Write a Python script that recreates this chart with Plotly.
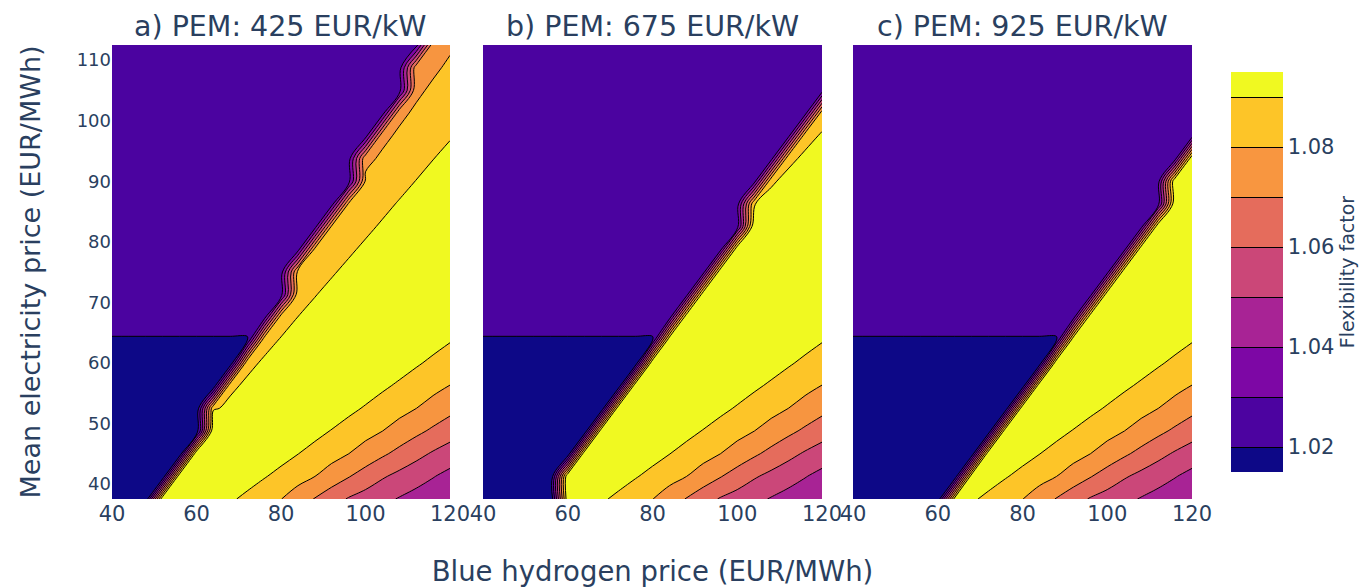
import plotly.graph_objects as go

# Blue hydrogen price (EUR/MWh) grid and mean electricity price (EUR/MWh) grid
x_h2 = [40, 44, 48, 52, 56, 60, 64, 68, 72, 76, 80, 84, 88, 92, 96, 100, 104, 108, 112, 116, 120]
y_el = [37.5, 41.25, 45, 48.75, 52.5, 56.25, 60, 63.75, 67.5, 71.25, 75, 78.75, 82.5, 86.25,
        90, 93.75, 97.5, 101.25, 105, 108.75, 112.5]

# Flexibility factor, rows = y_el (bottom to top), columns = x_h2
z_a = [
    [1.01, 1.01, 1.01, 1.10, 1.10, 1.099, 1.095, 1.0914, 1.0877, 1.0839, 1.0802, 1.0749, 1.0695, 1.0641, 1.0592, 1.0559, 1.0525, 1.0493, 1.0465, 1.0438, 1.041],
    [1.01, 1.01, 1.01, 1.01, 1.10, 1.10, 1.10, 1.0978, 1.0942, 1.0907, 1.0872, 1.0836, 1.0801, 1.0754, 1.0706, 1.0658, 1.0611, 1.0574, 1.0539, 1.0505, 1.0471],
    [1.01, 1.01, 1.01, 1.01, 1.01, 1.10, 1.10, 1.10, 1.10, 1.0969, 1.0935, 1.0902, 1.0868, 1.0835, 1.0801, 1.0759, 1.0716, 1.0673, 1.063, 1.0589, 1.0554],
    [1.01, 1.01, 1.01, 1.01, 1.01, 1.01, 1.10, 1.10, 1.10, 1.10, 1.0992, 1.096, 1.0928, 1.0896, 1.0864, 1.0832, 1.0801, 1.0762, 1.0723, 1.0684, 1.0645],
    [1.01, 1.01, 1.01, 1.01, 1.01, 1.01, 1.0889, 1.0919, 1.0949, 1.0979, 1.10, 1.10, 1.0983, 1.0953, 1.0922, 1.0892, 1.0861, 1.0831, 1.0801, 1.0765, 1.0729],
    [1.01, 1.01, 1.01, 1.01, 1.01, 1.01, 1.01, 1.0884, 1.0914, 1.0944, 1.0974, 1.10, 1.10, 1.10, 1.0974, 1.0945, 1.0916, 1.0887, 1.0858, 1.0828, 1.0799],
    [1.01, 1.01, 1.01, 1.01, 1.01, 1.01, 1.01, 1.01, 1.088, 1.091, 1.094, 1.097, 1.10, 1.10, 1.10, 1.0997, 1.0969, 1.094, 1.0911, 1.0883, 1.0854],
    [1.019, 1.019, 1.019, 1.019, 1.019, 1.019, 1.019, 1.019, 1.019, 1.0875, 1.0905, 1.0935, 1.0965, 1.0995, 1.10, 1.10, 1.10, 1.0985, 1.0958, 1.0932, 1.0906],
    [1.025, 1.025, 1.025, 1.025, 1.025, 1.025, 1.025, 1.025, 1.025, 1.025, 1.087, 1.0901, 1.093, 1.096, 1.099, 1.10, 1.10, 1.10, 1.099, 1.0975, 1.096],
    [1.025, 1.025, 1.025, 1.025, 1.025, 1.025, 1.025, 1.025, 1.025, 1.025, 1.025, 1.0866, 1.0896, 1.0926, 1.0956, 1.0986, 1.10, 1.10, 1.10, 1.10, 1.10],
    [1.025, 1.025, 1.025, 1.025, 1.025, 1.025, 1.025, 1.025, 1.025, 1.025, 1.025, 1.0831, 1.0861, 1.0891, 1.0921, 1.0951, 1.0981, 1.10, 1.10, 1.10, 1.10],
    [1.025, 1.025, 1.025, 1.025, 1.025, 1.025, 1.025, 1.025, 1.025, 1.025, 1.025, 1.025, 1.0826, 1.0856, 1.0886, 1.0916, 1.0946, 1.0976, 1.10, 1.10, 1.10],
    [1.025, 1.025, 1.025, 1.025, 1.025, 1.025, 1.025, 1.025, 1.025, 1.025, 1.025, 1.025, 1.025, 1.0821, 1.0851, 1.0881, 1.0911, 1.0941, 1.0971, 1.10, 1.10],
    [1.025, 1.025, 1.025, 1.025, 1.025, 1.025, 1.025, 1.025, 1.025, 1.025, 1.025, 1.025, 1.025, 1.025, 1.0817, 1.0847, 1.0877, 1.0907, 1.0937, 1.0967, 1.0997],
    [1.025, 1.025, 1.025, 1.025, 1.025, 1.025, 1.025, 1.025, 1.025, 1.025, 1.025, 1.025, 1.025, 1.025, 1.025, 1.0812, 1.0842, 1.0872, 1.0902, 1.0932, 1.0962],
    [1.025, 1.025, 1.025, 1.025, 1.025, 1.025, 1.025, 1.025, 1.025, 1.025, 1.025, 1.025, 1.025, 1.025, 1.025, 1.0783, 1.0811, 1.084, 1.0869, 1.0898, 1.0926],
    [1.025, 1.025, 1.025, 1.025, 1.025, 1.025, 1.025, 1.025, 1.025, 1.025, 1.025, 1.025, 1.025, 1.025, 1.025, 1.025, 1.0784, 1.0811, 1.0839, 1.0866, 1.0893],
    [1.025, 1.025, 1.025, 1.025, 1.025, 1.025, 1.025, 1.025, 1.025, 1.025, 1.025, 1.025, 1.025, 1.025, 1.025, 1.025, 1.025, 1.0785, 1.0811, 1.0837, 1.0863],
    [1.025, 1.025, 1.025, 1.025, 1.025, 1.025, 1.025, 1.025, 1.025, 1.025, 1.025, 1.025, 1.025, 1.025, 1.025, 1.025, 1.025, 1.025, 1.0787, 1.0812, 1.0837],
    [1.025, 1.025, 1.025, 1.025, 1.025, 1.025, 1.025, 1.025, 1.025, 1.025, 1.025, 1.025, 1.025, 1.025, 1.025, 1.025, 1.025, 1.025, 1.0764, 1.0788, 1.0812],
    [1.025, 1.025, 1.025, 1.025, 1.025, 1.025, 1.025, 1.025, 1.025, 1.025, 1.025, 1.025, 1.025, 1.025, 1.025, 1.025, 1.025, 1.025, 1.025, 1.0767, 1.079],
]

z_b = [
    [1.01, 1.01, 1.01, 1.01, 1.01, 1.099, 1.095, 1.0914, 1.0877, 1.0839, 1.0802, 1.0749, 1.0695, 1.0641, 1.0592, 1.0559, 1.0525, 1.0493, 1.0465, 1.0438, 1.041],
    [1.01, 1.01, 1.01, 1.01, 1.01, 1.10, 1.10, 1.0978, 1.0942, 1.0907, 1.0872, 1.0836, 1.0801, 1.0754, 1.0706, 1.0658, 1.0611, 1.0574, 1.0539, 1.0505, 1.0471],
    [1.01, 1.01, 1.01, 1.01, 1.01, 1.01, 1.10, 1.10, 1.10, 1.0969, 1.0935, 1.0902, 1.0868, 1.0835, 1.0801, 1.0759, 1.0716, 1.0673, 1.063, 1.0589, 1.0554],
    [1.01, 1.01, 1.01, 1.01, 1.01, 1.01, 1.01, 1.10, 1.10, 1.10, 1.0992, 1.096, 1.0928, 1.0896, 1.0864, 1.0832, 1.0801, 1.0762, 1.0723, 1.0684, 1.0645],
    [1.01, 1.01, 1.01, 1.01, 1.01, 1.01, 1.01, 1.01, 1.10, 1.10, 1.10, 1.10, 1.0983, 1.0953, 1.0922, 1.0892, 1.0861, 1.0831, 1.0801, 1.0765, 1.0729],
    [1.01, 1.01, 1.01, 1.01, 1.01, 1.01, 1.01, 1.01, 1.01, 1.10, 1.10, 1.10, 1.10, 1.10, 1.0974, 1.0945, 1.0916, 1.0887, 1.0858, 1.0828, 1.0799],
    [1.01, 1.01, 1.01, 1.01, 1.01, 1.01, 1.01, 1.01, 1.01, 1.01, 1.10, 1.10, 1.10, 1.10, 1.10, 1.0997, 1.0969, 1.094, 1.0911, 1.0883, 1.0854],
    [1.019, 1.019, 1.019, 1.019, 1.019, 1.019, 1.019, 1.019, 1.019, 1.019, 1.019, 1.10, 1.10, 1.10, 1.10, 1.10, 1.10, 1.0985, 1.0958, 1.0932, 1.0906],
    [1.025, 1.025, 1.025, 1.025, 1.025, 1.025, 1.025, 1.025, 1.025, 1.025, 1.025, 1.025, 1.10, 1.10, 1.10, 1.10, 1.10, 1.10, 1.099, 1.0975, 1.096],
    [1.025, 1.025, 1.025, 1.025, 1.025, 1.025, 1.025, 1.025, 1.025, 1.025, 1.025, 1.025, 1.025, 1.10, 1.10, 1.10, 1.10, 1.10, 1.10, 1.10, 1.10],
    [1.025, 1.025, 1.025, 1.025, 1.025, 1.025, 1.025, 1.025, 1.025, 1.025, 1.025, 1.025, 1.025, 1.025, 1.10, 1.10, 1.10, 1.10, 1.10, 1.10, 1.10],
    [1.025, 1.025, 1.025, 1.025, 1.025, 1.025, 1.025, 1.025, 1.025, 1.025, 1.025, 1.025, 1.025, 1.025, 1.025, 1.10, 1.10, 1.10, 1.10, 1.10, 1.10],
    [1.025, 1.025, 1.025, 1.025, 1.025, 1.025, 1.025, 1.025, 1.025, 1.025, 1.025, 1.025, 1.025, 1.025, 1.025, 1.025, 1.10, 1.10, 1.10, 1.10, 1.10],
    [1.025, 1.025, 1.025, 1.025, 1.025, 1.025, 1.025, 1.025, 1.025, 1.025, 1.025, 1.025, 1.025, 1.025, 1.025, 1.025, 1.0896, 1.0926, 1.0956, 1.0986, 1.10],
    [1.025, 1.025, 1.025, 1.025, 1.025, 1.025, 1.025, 1.025, 1.025, 1.025, 1.025, 1.025, 1.025, 1.025, 1.025, 1.025, 1.025, 1.089, 1.092, 1.095, 1.098],
    [1.025, 1.025, 1.025, 1.025, 1.025, 1.025, 1.025, 1.025, 1.025, 1.025, 1.025, 1.025, 1.025, 1.025, 1.025, 1.025, 1.025, 1.025, 1.0883, 1.0913, 1.0943],
    [1.025, 1.025, 1.025, 1.025, 1.025, 1.025, 1.025, 1.025, 1.025, 1.025, 1.025, 1.025, 1.025, 1.025, 1.025, 1.025, 1.025, 1.025, 1.025, 1.0877, 1.0907],
    [1.025, 1.025, 1.025, 1.025, 1.025, 1.025, 1.025, 1.025, 1.025, 1.025, 1.025, 1.025, 1.025, 1.025, 1.025, 1.025, 1.025, 1.025, 1.025, 1.025, 1.087],
    [1.025, 1.025, 1.025, 1.025, 1.025, 1.025, 1.025, 1.025, 1.025, 1.025, 1.025, 1.025, 1.025, 1.025, 1.025, 1.025, 1.025, 1.025, 1.025, 1.025, 1.025],
    [1.025, 1.025, 1.025, 1.025, 1.025, 1.025, 1.025, 1.025, 1.025, 1.025, 1.025, 1.025, 1.025, 1.025, 1.025, 1.025, 1.025, 1.025, 1.025, 1.025, 1.025],
    [1.025, 1.025, 1.025, 1.025, 1.025, 1.025, 1.025, 1.025, 1.025, 1.025, 1.025, 1.025, 1.025, 1.025, 1.025, 1.025, 1.025, 1.025, 1.025, 1.025, 1.025],
]

z_c = [
    [1.01, 1.01, 1.01, 1.01, 1.01, 1.01, 1.095, 1.0914, 1.0877, 1.0839, 1.0802, 1.0749, 1.0695, 1.0641, 1.0592, 1.0559, 1.0525, 1.0493, 1.0465, 1.0438, 1.041],
    [1.01, 1.01, 1.01, 1.01, 1.01, 1.01, 1.01, 1.0978, 1.0942, 1.0907, 1.0872, 1.0836, 1.0801, 1.0754, 1.0706, 1.0658, 1.0611, 1.0574, 1.0539, 1.0505, 1.0471],
    [1.01, 1.01, 1.01, 1.01, 1.01, 1.01, 1.01, 1.01, 1.10, 1.0969, 1.0935, 1.0902, 1.0868, 1.0835, 1.0801, 1.0759, 1.0716, 1.0673, 1.063, 1.0589, 1.0554],
    [1.01, 1.01, 1.01, 1.01, 1.01, 1.01, 1.01, 1.01, 1.01, 1.10, 1.0992, 1.096, 1.0928, 1.0896, 1.0864, 1.0832, 1.0801, 1.0762, 1.0723, 1.0684, 1.0645],
    [1.01, 1.01, 1.01, 1.01, 1.01, 1.01, 1.01, 1.01, 1.01, 1.01, 1.10, 1.10, 1.0983, 1.0953, 1.0922, 1.0892, 1.0861, 1.0831, 1.0801, 1.0765, 1.0729],
    [1.01, 1.01, 1.01, 1.01, 1.01, 1.01, 1.01, 1.01, 1.01, 1.01, 1.01, 1.10, 1.10, 1.10, 1.0974, 1.0945, 1.0916, 1.0887, 1.0858, 1.0828, 1.0799],
    [1.01, 1.01, 1.01, 1.01, 1.01, 1.01, 1.01, 1.01, 1.01, 1.01, 1.01, 1.01, 1.10, 1.10, 1.10, 1.0997, 1.0969, 1.094, 1.0911, 1.0883, 1.0854],
    [1.019, 1.019, 1.019, 1.019, 1.019, 1.019, 1.019, 1.019, 1.019, 1.019, 1.019, 1.019, 1.019, 1.10, 1.10, 1.10, 1.10, 1.0985, 1.0958, 1.0932, 1.0906],
    [1.025, 1.025, 1.025, 1.025, 1.025, 1.025, 1.025, 1.025, 1.025, 1.025, 1.025, 1.025, 1.025, 1.025, 1.10, 1.10, 1.10, 1.10, 1.099, 1.0975, 1.096],
    [1.025, 1.025, 1.025, 1.025, 1.025, 1.025, 1.025, 1.025, 1.025, 1.025, 1.025, 1.025, 1.025, 1.025, 1.025, 1.10, 1.10, 1.10, 1.10, 1.10, 1.10],
    [1.025, 1.025, 1.025, 1.025, 1.025, 1.025, 1.025, 1.025, 1.025, 1.025, 1.025, 1.025, 1.025, 1.025, 1.025, 1.025, 1.10, 1.10, 1.10, 1.10, 1.10],
    [1.025, 1.025, 1.025, 1.025, 1.025, 1.025, 1.025, 1.025, 1.025, 1.025, 1.025, 1.025, 1.025, 1.025, 1.025, 1.025, 1.025, 1.10, 1.10, 1.10, 1.10],
    [1.025, 1.025, 1.025, 1.025, 1.025, 1.025, 1.025, 1.025, 1.025, 1.025, 1.025, 1.025, 1.025, 1.025, 1.025, 1.025, 1.025, 1.025, 1.10, 1.10, 1.10],
    [1.025, 1.025, 1.025, 1.025, 1.025, 1.025, 1.025, 1.025, 1.025, 1.025, 1.025, 1.025, 1.025, 1.025, 1.025, 1.025, 1.025, 1.025, 1.025, 1.10, 1.10],
    [1.025, 1.025, 1.025, 1.025, 1.025, 1.025, 1.025, 1.025, 1.025, 1.025, 1.025, 1.025, 1.025, 1.025, 1.025, 1.025, 1.025, 1.025, 1.025, 1.10, 1.10],
    [1.025, 1.025, 1.025, 1.025, 1.025, 1.025, 1.025, 1.025, 1.025, 1.025, 1.025, 1.025, 1.025, 1.025, 1.025, 1.025, 1.025, 1.025, 1.025, 1.025, 1.10],
    [1.025, 1.025, 1.025, 1.025, 1.025, 1.025, 1.025, 1.025, 1.025, 1.025, 1.025, 1.025, 1.025, 1.025, 1.025, 1.025, 1.025, 1.025, 1.025, 1.025, 1.025],
    [1.025, 1.025, 1.025, 1.025, 1.025, 1.025, 1.025, 1.025, 1.025, 1.025, 1.025, 1.025, 1.025, 1.025, 1.025, 1.025, 1.025, 1.025, 1.025, 1.025, 1.025],
    [1.025, 1.025, 1.025, 1.025, 1.025, 1.025, 1.025, 1.025, 1.025, 1.025, 1.025, 1.025, 1.025, 1.025, 1.025, 1.025, 1.025, 1.025, 1.025, 1.025, 1.025],
    [1.025, 1.025, 1.025, 1.025, 1.025, 1.025, 1.025, 1.025, 1.025, 1.025, 1.025, 1.025, 1.025, 1.025, 1.025, 1.025, 1.025, 1.025, 1.025, 1.025, 1.025],
    [1.025, 1.025, 1.025, 1.025, 1.025, 1.025, 1.025, 1.025, 1.025, 1.025, 1.025, 1.025, 1.025, 1.025, 1.025, 1.025, 1.025, 1.025, 1.025, 1.025, 1.025],
]

panel_titles = ["a) PEM: 425 EUR/kW", "b) PEM: 675 EUR/kW", "c) PEM: 925 EUR/kW"]
x_ticks = [40, 60, 80, 100, 120]
y_ticks = [40, 50, 60, 70, 80, 90, 100, 110]
cb_ticks = [1.02, 1.04, 1.06, 1.08]

for zz in (z_a, z_b, z_c):
    assert len(zz) == len(y_el)
    for row in zz:
        assert len(row) == len(x_h2), len(row)

FONT = "DejaVu Sans"
TXT = "#2a3f5f"
domains = [[0.0, 0.31296], [0.34352, 0.65741], [0.68611, 1.0]]

fig = go.Figure()
for i, zz in enumerate((z_a, z_b, z_c)):
    sfx = "" if i == 0 else str(i + 1)
    fig.add_trace(go.Contour(
        x=x_h2, y=y_el, z=zz,
        xaxis="x" + sfx, yaxis="y" + sfx,
        colorscale="Plasma",
        autocontour=False,
        contours=dict(start=1.02, end=1.09, size=0.01, coloring="fill"),
        line=dict(color="black", width=1),
        showscale=(i == 0),
        colorbar=dict(
            title=dict(text="Flexibility factor", side="right",
                       font=dict(size=19, family=FONT, color=TXT)),
            tickvals=cb_ticks, tickformat=".2f", ticks="",
            tickfont=dict(size=21, family=FONT, color=TXT),
            thickness=52, lenmode="pixels", len=420,
            x=1.0269, xanchor="left", y=0.5, yanchor="middle",
            outlinewidth=0,
        ),
        hoverinfo="x+y+z",
    ))

layout = dict(
    width=1363, height=587,
    margin=dict(l=112, r=171, t=45, b=88, autoexpand=False),
    paper_bgcolor="white", plot_bgcolor="white",
    font=dict(family=FONT, color=TXT, size=18),
    showlegend=False,
)
for i in range(3):
    sfx = "" if i == 0 else str(i + 1)
    layout["xaxis" + sfx] = dict(
        domain=domains[i], anchor="y" + sfx,
        tickvals=x_ticks, ticks="", showgrid=False, zeroline=False,
        showline=False, tickfont=dict(size=21), automargin=False,
    )
    layout["yaxis" + sfx] = dict(
        domain=[0, 1], anchor="x" + sfx,
        tickvals=y_ticks, ticks="", showgrid=False, zeroline=False,
        showline=False, tickfont=dict(size=18),
        showticklabels=(i == 0), automargin=False,
    )
    if i > 0:
        layout["yaxis" + sfx]["matches"] = "y"

layout["yaxis"]["title"] = dict(text="Mean electricity price (EUR/MWh)",
                                font=dict(size=27), standoff=28)
layout["xaxis2"]["title"] = dict(text="Blue hydrogen price (EUR/MWh)",
                                 font=dict(size=27.5), standoff=37)

annotations = []
for i, t in enumerate(panel_titles):
    annotations.append(dict(
        text=t, xref="paper", yref="paper",
        x=(domains[i][0] + domains[i][1]) / 2, y=1.0,
        xanchor="center", yanchor="bottom", showarrow=False,
        font=dict(size=28.5, family=FONT, color=TXT), yshift=0,
    ))
layout["annotations"] = annotations

fig.update_layout(**layout)
fig.write_html("out.html", config={"displayModeBar": False},
               post_script="document.body.style.margin='0px';")
